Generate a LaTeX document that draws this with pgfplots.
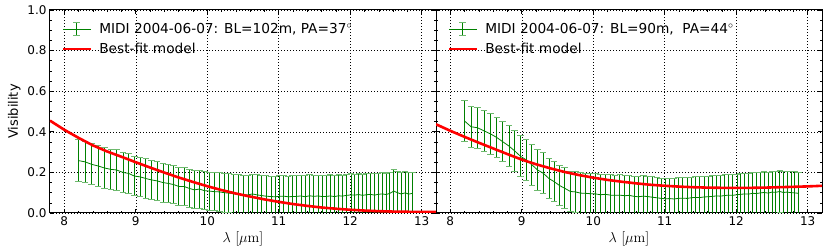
\documentclass[border=0pt]{standalone}
\usepackage[no-math]{fontspec}
\setmainfont{DejaVu Sans}
\usepackage{pgfplots}
\pgfplotsset{compat=1.18}
\usepackage{pgfplotstable}

\definecolor{mplgreen}{RGB}{0,128,0}
\definecolor{capgreen}{RGB}{110,185,110}
\definecolor{mplred}{RGB}{255,0,0}

\pgfplotstableread{
x y e
8.20 0.258 0.103
8.29 0.252 0.102
8.38 0.240 0.101
8.47 0.232 0.100
8.56 0.222 0.100
8.65 0.215 0.099
8.73 0.212 0.099
8.82 0.200 0.098
8.90 0.195 0.098
8.98 0.182 0.097
9.06 0.178 0.097
9.14 0.170 0.097
9.22 0.163 0.096
9.30 0.158 0.096
9.38 0.150 0.096
9.45 0.146 0.095
9.53 0.140 0.095
9.60 0.131 0.095
9.68 0.130 0.095
9.75 0.121 0.095
9.82 0.114 0.094
9.89 0.118 0.094
9.96 0.110 0.094
10.03 0.108 0.094
10.10 0.105 0.094
10.17 0.104 0.095
10.24 0.100 0.095
10.30 0.098 0.096
10.37 0.095 0.096
10.44 0.092 0.097
10.50 0.090 0.097
10.57 0.089 0.098
10.63 0.094 0.098
10.70 0.089 0.099
10.76 0.086 0.099
10.82 0.083 0.100
10.89 0.081 0.100
10.95 0.080 0.100
11.01 0.082 0.101
11.07 0.083 0.101
11.13 0.080 0.102
11.19 0.081 0.102
11.25 0.082 0.102
11.31 0.084 0.102
11.37 0.080 0.103
11.43 0.085 0.103
11.49 0.082 0.103
11.55 0.084 0.103
11.61 0.081 0.103
11.67 0.082 0.104
11.72 0.084 0.104
11.78 0.081 0.104
11.84 0.085 0.104
11.89 0.083 0.104
11.95 0.087 0.104
12.01 0.089 0.104
12.06 0.088 0.104
12.12 0.091 0.104
12.17 0.087 0.105
12.23 0.090 0.105
12.28 0.092 0.105
12.34 0.088 0.105
12.39 0.092 0.105
12.45 0.094 0.105
12.50 0.091 0.105
12.55 0.096 0.105
12.61 0.108 0.106
12.66 0.100 0.106
12.71 0.094 0.105
12.77 0.099 0.105
12.82 0.093 0.105
12.87 0.097 0.105
}\leftdata

\pgfplotstableread{
x y e
8.20 0.453 0.102
8.29 0.425 0.102
8.38 0.420 0.101
8.47 0.405 0.101
8.56 0.390 0.100
8.65 0.372 0.100
8.73 0.352 0.100
8.82 0.330 0.100
8.90 0.306 0.100
8.98 0.280 0.100
9.06 0.262 0.100
9.14 0.238 0.100
9.22 0.212 0.100
9.30 0.196 0.100
9.38 0.170 0.100
9.45 0.155 0.100
9.53 0.135 0.100
9.60 0.122 0.100
9.68 0.106 0.100
9.75 0.104 0.100
9.82 0.098 0.100
9.89 0.097 0.100
9.96 0.095 0.100
10.03 0.094 0.100
10.10 0.090 0.100
10.17 0.092 0.100
10.24 0.088 0.100
10.30 0.087 0.100
10.37 0.088 0.100
10.44 0.085 0.100
10.50 0.087 0.100
10.57 0.082 0.100
10.63 0.080 0.100
10.70 0.083 0.100
10.76 0.081 0.100
10.82 0.078 0.100
10.89 0.075 0.100
10.95 0.072 0.100
11.01 0.070 0.100
11.07 0.071 0.100
11.13 0.069 0.100
11.19 0.072 0.101
11.25 0.073 0.101
11.31 0.072 0.101
11.37 0.075 0.101
11.43 0.077 0.101
11.49 0.076 0.102
11.55 0.079 0.102
11.61 0.080 0.102
11.67 0.082 0.102
11.72 0.084 0.102
11.78 0.083 0.102
11.84 0.086 0.102
11.89 0.088 0.102
11.95 0.087 0.102
12.01 0.090 0.102
12.06 0.092 0.103
12.12 0.094 0.103
12.17 0.093 0.103
12.23 0.097 0.103
12.28 0.096 0.103
12.34 0.099 0.103
12.39 0.101 0.103
12.45 0.098 0.103
12.50 0.103 0.103
12.55 0.102 0.104
12.61 0.106 0.104
12.66 0.101 0.104
12.71 0.103 0.104
12.77 0.100 0.104
12.82 0.099 0.104
12.87 0.097 0.104
}\rightdata

\pgfplotstableread{
x y
7.8 0.455
8.0 0.410
8.2 0.370
8.4 0.333
8.6 0.303
8.8 0.277
9.0 0.250
9.2 0.224
9.4 0.199
9.6 0.175
9.8 0.153
10.0 0.132
10.2 0.113
10.4 0.096
10.6 0.081
10.8 0.067
11.0 0.055
11.2 0.044
11.4 0.035
11.6 0.027
11.8 0.021
12.0 0.016
12.2 0.012
12.4 0.009
12.6 0.007
12.8 0.006
13.0 0.005
13.2 0.005
}\leftmodel

\pgfplotstableread{
x y
7.8 0.437
8.0 0.405
8.2 0.375
8.4 0.346
8.6 0.318
8.8 0.290
9.0 0.263
9.2 0.240
9.4 0.220
9.6 0.202
9.8 0.187
10.0 0.174
10.2 0.163
10.4 0.154
10.6 0.146
10.8 0.139
11.0 0.134
11.2 0.130
11.4 0.127
11.6 0.125
11.8 0.124
12.0 0.124
12.2 0.124
12.4 0.125
12.6 0.127
12.8 0.129
13.0 0.131
13.2 0.134
}\rightmodel

\pgfplotsset{
  panel/.style={
    scale only axis, width=386pt, height=203pt,
    xmin=7.8, xmax=13.2, ymin=0, ymax=1,
    xtick={8,9,10,11,12,13}, ytick={0,0.2,0.4,0.6,0.8,1.0},
    minor x tick num=4, minor y tick num=3,
    tick align=inside, major tick length=4pt, minor tick length=2pt,
    xtick pos=both, ytick pos=both,
    grid=major,
    major grid style={black, line width=0.5pt, dash pattern=on 0.8pt off 2.2pt},
    axis line style={black, line width=1pt},
    every tick/.style={black, line width=0.6pt},
    /pgf/number format/assume math mode=true,
    ticklabel style={font=\fontsize{12}{14}\selectfont},
    yticklabel style={/pgf/number format/.cd, fixed, fixed zerofill, precision=1},
    xlabel={$\lambda\ [\mu\mathrm{m}]$},
    xlabel style={font=\fontsize{14}{16}\selectfont, yshift=1pt},
    ylabel style={font=\fontsize{13}{15}\selectfont},
    legend style={draw=none, fill=none, at={(0.022,0.955)}, anchor=north west,
      font=\fontsize{13.7}{15}\selectfont, row sep=4pt,
      /tikz/every odd column/.append style={column sep=5pt}},
    legend cell align=left,
  },
  errplot/.style={
    mplgreen, line width=0.8pt, no marks,
    legend image code/.code={
      \draw[mplgreen, line width=1pt] (0pt,0pt) -- (28pt,0pt);
      \draw[mplgreen, line width=1pt] (14pt,-6.5pt) -- (14pt,6.5pt);
      \draw[capgreen, line width=1pt] (10.5pt,6.5pt) -- (17.5pt,6.5pt);
      \draw[capgreen, line width=1pt] (10.5pt,-6.5pt) -- (17.5pt,-6.5pt);
    },
    error bars/.cd, y dir=both, y explicit,
    error bar style={mplgreen, line width=0.7pt},
    error mark options={capgreen, mark size=3.2pt, line width=0.9pt, rotate=90},
  },
  modelplot/.style={
    mplred, line width=2.6pt, no marks,
    legend image code/.code={
      \draw[mplred, line width=2.6pt] (0pt,0pt) -- (28pt,0pt);
    },
  },
}

\begin{document}
\begin{tikzpicture}
\begin{axis}[panel, at={(50pt,36pt)}, anchor=south west,
  ylabel={Visibility}]
  \addplot[errplot] table[x=x, y=y, y error=e] {\leftdata};
  \addlegendentry{MIDI 2004-06-07: BL=102m, PA=37$^\circ$}
  \addplot[modelplot] table[x=x, y=y] {\leftmodel};
  \addlegendentry{Best-fit model}
\end{axis}
\begin{axis}[panel, at={(436pt,36pt)}, anchor=south west,
  yticklabels={}]
  \addplot[errplot] table[x=x, y=y, y error=e] {\rightdata};
  \addlegendentry{MIDI 2004-06-07: BL=90m,\ \ PA=44$^\circ$}
  \addplot[modelplot] table[x=x, y=y] {\rightmodel};
  \addlegendentry{Best-fit model}
\end{axis}
\pgfresetboundingbox
\path[use as bounding box] (0pt,0pt) rectangle (830pt,249pt);
\end{tikzpicture}
\end{document}
